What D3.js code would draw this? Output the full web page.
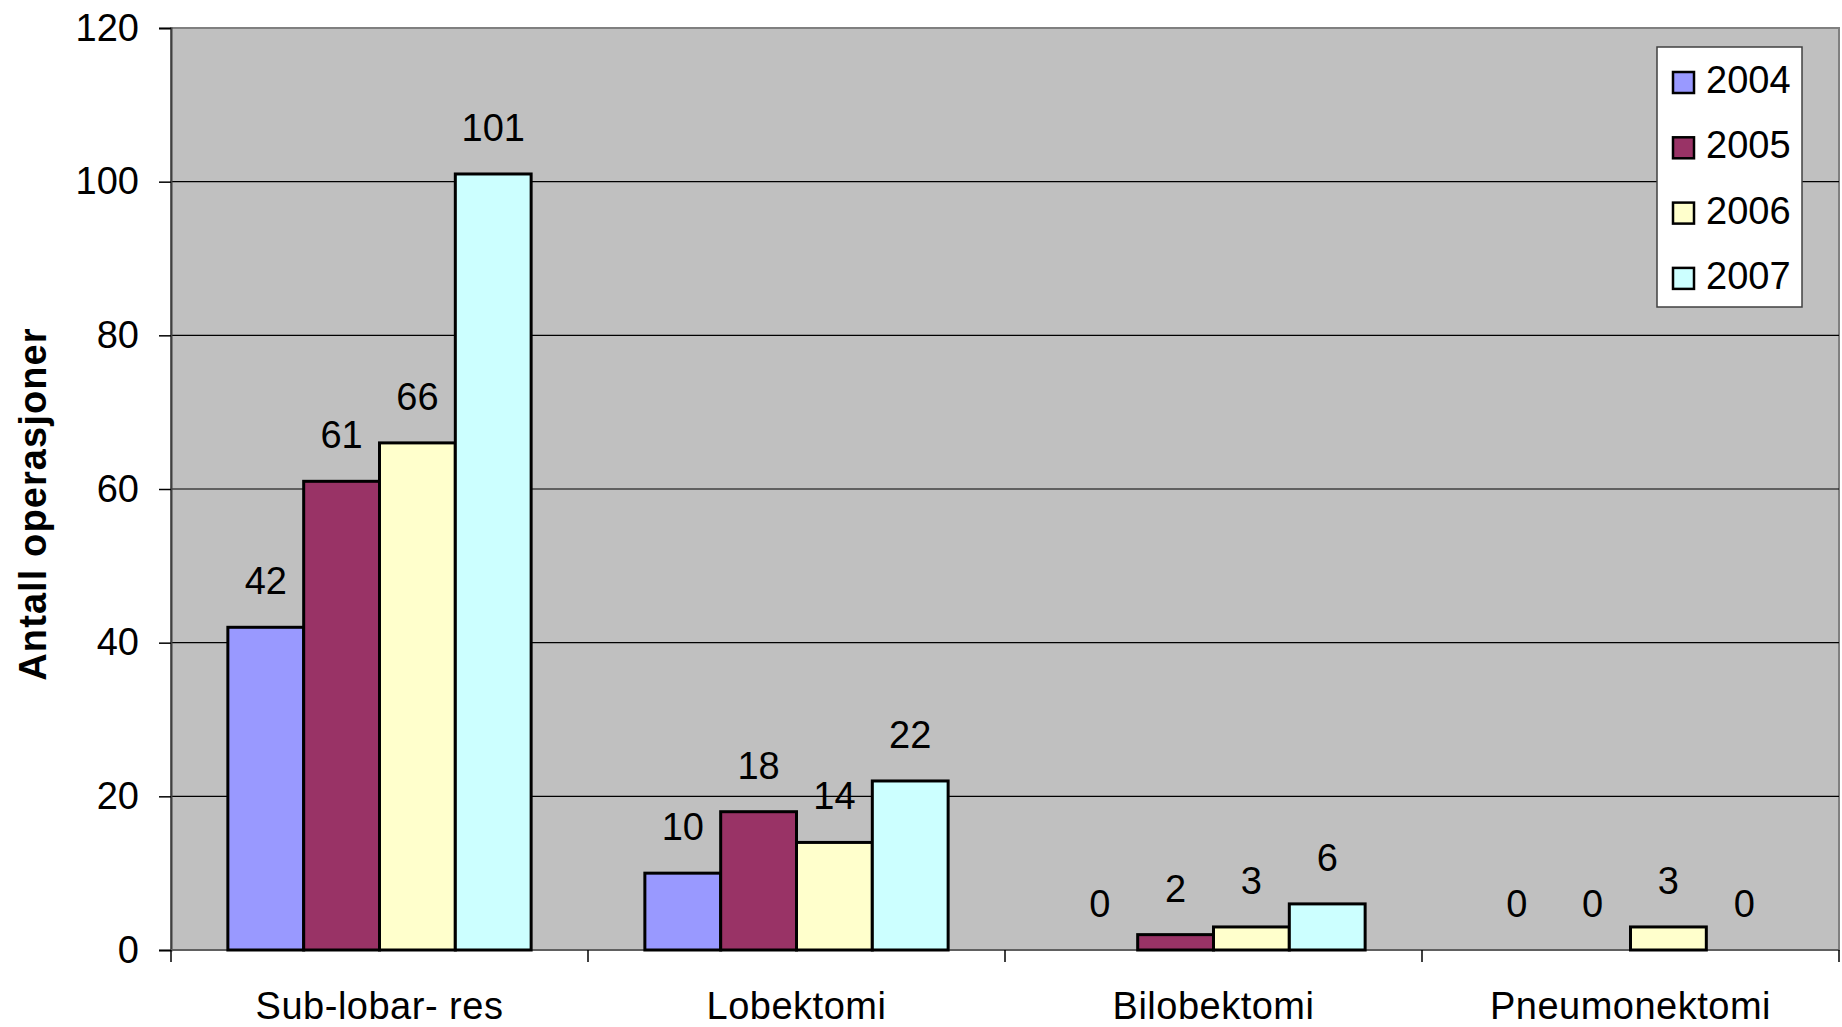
<!DOCTYPE html>
<html>
<head>
<meta charset="utf-8">
<script src="https://cdn.jsdelivr.net/npm/d3@7"></script>
<style>
  html, body { margin: 0; padding: 0; background: #fff; }
  svg { display: block; font-family: "Liberation Sans", Arial, sans-serif; }
</style>
</head>
<body>
<svg id="chart" width="1842" height="1027"></svg>
<script>
(function () {
    'use strict';

    // ── data ─────────────────────────────────────────────────────────────
    const categories = ['Sub-lobar- res', 'Lobektomi', 'Bilobektomi', 'Pneumonektomi'];
    const years      = ['2004', '2005', '2006', '2007'];
    const v2004 = [42, 10, 0, 0];
    const v2005 = [61, 18, 2, 0];
    const v2006 = [66, 14, 3, 3];
    const v2007 = [101, 22, 6, 0];
    const yTicks = [0, 20, 40, 60, 80, 100, 120];
    const colors = ['#9999FF', '#993366', '#FFFFCC', '#CCFFFF'];

    const series = [v2004, v2005, v2006, v2007];

    // ── layout ───────────────────────────────────────────────────────────
    const left = 171, right = 1839, top = 28, bottom = 950;
    const svg = d3.select('#chart');

    const x0 = d3.scaleBand().domain(categories).range([left, right]).padding(0);
    const x1 = d3.scaleBand().domain(years).range([0, x0.bandwidth()])
        .paddingInner(0).paddingOuter(0.75);
    const y = d3.scaleLinear().domain([0, 120]).range([bottom, top]);

    // plot background
    svg.append('rect')
        .attr('x', left).attr('y', top)
        .attr('width', right - left).attr('height', bottom - top)
        .attr('fill', '#C0C0C0')
        .attr('stroke', '#808080')
        .attr('stroke-width', 2);

    // gridlines
    svg.append('g')
        .selectAll('line')
        .data(yTicks.filter(t => t > 0 && t < 120))
        .enter()
        .append('line')
        .attr('x1', left).attr('x2', right)
        .attr('y1', d => y(d)).attr('y2', d => y(d))
        .attr('stroke', '#000')
        .attr('stroke-width', 1.2);

    // ── y axis ───────────────────────────────────────────────────────────
    const yAxis = d3.axisLeft(y).tickValues(yTicks).tickSize(12).tickPadding(20);
    const gy = svg.append('g').attr('transform', `translate(${left},0)`).call(yAxis);
    gy.select('.domain').attr('stroke', '#404040').attr('stroke-width', 2);
    gy.selectAll('.tick line').attr('stroke', '#000').attr('stroke-width', 1.5);
    gy.selectAll('.tick text')
        .style('font-size', '38px')
        .style('font-family', '"Liberation Sans", Arial, sans-serif')
        .attr('fill', '#000');

    // ── x axis ───────────────────────────────────────────────────────────
    svg.append('line')
        .attr('x1', left).attr('x2', right)
        .attr('y1', bottom).attr('y2', bottom)
        .attr('stroke', '#606060').attr('stroke-width', 2);

    const bounds = categories.map(c => x0(c)).concat([right]);
    svg.append('g')
        .selectAll('line')
        .data(bounds)
        .enter()
        .append('line')
        .attr('x1', d => d).attr('x2', d => d)
        .attr('y1', bottom).attr('y2', bottom + 12)
        .attr('stroke', '#000').attr('stroke-width', 1.5);

    svg.append('g')
        .selectAll('text')
        .data(categories)
        .enter()
        .append('text')
        .attr('x', d => x0(d) + x0.bandwidth() / 2)
        .attr('y', 1019)
        .attr('text-anchor', 'middle')
        .style('font-size', '38px')
        .style('letter-spacing', '0.5px')
        .text(d => d);

    // ── bars ─────────────────────────────────────────────────────────────
    const groups = svg.append('g')
        .selectAll('g')
        .data(categories)
        .enter()
        .append('g')
        .attr('transform', d => `translate(${x0(d)},0)`);

    const cells = groups.selectAll('g')
        .data((c, ci) => years.map((yr, si) => ({ yr, si, v: series[si][ci] })))
        .enter()
        .append('g');

    cells.filter(d => d.v > 0)
        .append('rect')
        .attr('x', d => x1(d.yr))
        .attr('y', d => y(d.v))
        .attr('width', x1.bandwidth())
        .attr('height', d => y(0) - y(d.v))
        .attr('fill', d => colors[d.si])
        .attr('stroke', '#000')
        .attr('stroke-width', 3);

    cells.append('text')
        .attr('x', d => x1(d.yr) + x1.bandwidth() / 2)
        .attr('y', d => y(d.v) - 33)
        .attr('text-anchor', 'middle')
        .style('font-size', '38px')
        .text(d => d.v);

    // ── y title ──────────────────────────────────────────────────────────
    svg.append('text')
        .attr('transform', `translate(46,${(330 + 678) / 2}) rotate(-90)`)
        .attr('text-anchor', 'middle')
        .style('font-size', '38px')
        .style('font-weight', 'bold')
        .style('letter-spacing', '1.1px')
        .text('Antall operasjoner');

    // ── legend ───────────────────────────────────────────────────────────
    const lg = svg.append('g');
    lg.append('rect')
        .attr('x', 1657).attr('y', 47)
        .attr('width', 145).attr('height', 260)
        .attr('fill', '#fff')
        .attr('stroke', '#404040')
        .attr('stroke-width', 1.5);

    const items = lg.selectAll('g.item')
        .data(years)
        .enter()
        .append('g')
        .attr('class', 'item')
        .attr('transform', (d, i) => `translate(0,${82 + i * 65.3})`);

    items.append('rect')
        .attr('x', 1673).attr('y', -10)
        .attr('width', 21).attr('height', 21)
        .attr('fill', (d, i) => colors[i])
        .attr('stroke', '#000')
        .attr('stroke-width', 2.5);

    items.append('text')
        .attr('x', 1706).attr('y', 11)
        .style('font-size', '38px')
        .text(d => d);
})();
</script>
</body>
</html>
